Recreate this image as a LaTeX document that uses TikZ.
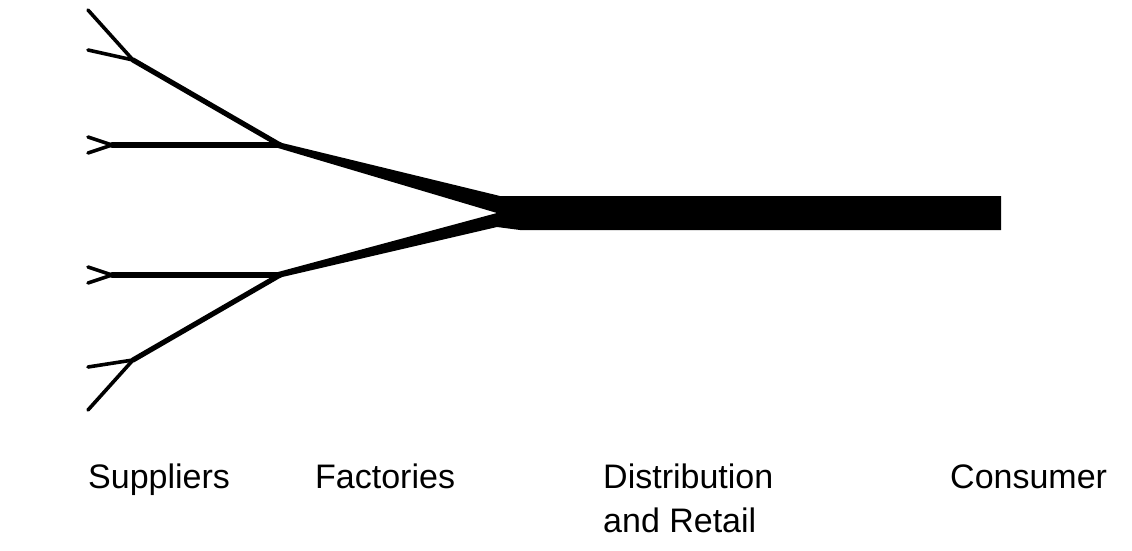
\documentclass[tikz,border=0pt]{standalone}
\usepackage{fontspec}
\setmainfont{Liberation Sans}
\begin{document}
\begin{tikzpicture}[x=1pt,y=-1pt,
  thin branch/.style={line width=3.6pt,line cap=round},
  mid branch/.style={line width=5.2pt,line cap=round},
  lbl/.style={anchor=base west,inner sep=0pt,font=\fontsize{34}{41}\selectfont}]
\useasboundingbox (0,0) rectangle (1132,551);
% coordinates
\coordinate (a1) at (88,10);
\coordinate (a2) at (88,50);
\coordinate (s1) at (133,60);
\coordinate (b1) at (88,137);
\coordinate (b2) at (88,153);
\coordinate (k1) at (112,145);
\coordinate (f1) at (280,145);
\coordinate (c1) at (88,267);
\coordinate (c2) at (88,283);
\coordinate (k2) at (112,275);
\coordinate (f2) at (280,275);
\coordinate (s2) at (133,360);
\coordinate (d1) at (88,367);
\coordinate (d2) at (88,410);
% upper supplier tree
\draw[thin branch] (a1) -- (s1);
\draw[thin branch] (a2) -- (s1);
\draw[mid branch] (s1) -- (f1);
\draw[thin branch] (b1) -- (k1) -- (b2);
\draw[mid branch] (k1) -- (f1);
% lower supplier tree
\draw[thin branch] (c1) -- (k2) -- (c2);
\draw[mid branch] (k2) -- (f2);
\draw[mid branch] (f2) -- (s2);
\draw[thin branch] (s2) -- (d1);
\draw[thin branch] (s2) -- (d2);
% converging trunk
\fill (278,142) -- (500,196) -- (1001,196) -- (1001,230) -- (520,230)
  -- (497,227) -- (278,278) -- (278,272) -- (497,213) -- (278,148) -- cycle;
% labels
\node[lbl] (sup) at (88,488) {Suppliers};
\node[lbl] (fac) at (315,488) {Factories};
\node[lbl] (dis) at (603,488) {Distribution};
\node[lbl] (dis2) at (603,532) {and Retail};
\node[lbl] (con) at (950,488) {Consumer};
\end{tikzpicture}
\end{document}
